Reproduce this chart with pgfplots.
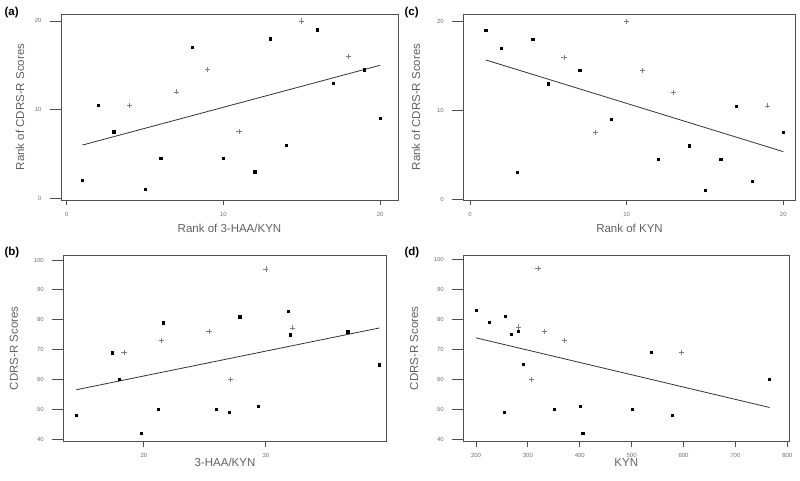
\documentclass[border=0pt]{standalone}
\usepackage{fontspec}
\setmainfont{Liberation Sans}
\usepackage{pgfplots}
\pgfplotsset{compat=1.18}
\definecolor{txt}{HTML}{606060}
\definecolor{tck}{HTML}{707070}
\definecolor{frm}{HTML}{505050}
\definecolor{plusc}{HTML}{808080}
\pgfplotsset{
  spss/.style={
    scale only axis,
    axis line style={draw=frm, line width=0.8pt},
    tick align=outside, tick pos=left,
    major tick length=5.5pt,
    tick style={draw=frm, line width=0.8pt},
    ytick=\empty,
    extra y tick style={major tick length=11pt, yticklabel style={xshift=-5pt}},
    ticklabel style={font=\fontsize{6}{7}\selectfont, text=tck},
    xticklabel style={yshift=-3pt},
    label style={font=\fontsize{11.5}{13}\selectfont, text=txt},
    /pgf/number format/assume math mode=true,
    clip=false,
  },
  dots/.style={only marks, mark=square*, mark size=1.1pt, black},
  pluses/.style={only marks, mark=+, mark size=2.6pt, plusc, mark options={line width=0.6pt}},
  reg/.style={no marks, draw=black!80, line width=0.8pt},
}
\begin{document}
\begin{tikzpicture}[x=1pt,y=1pt]
\useasboundingbox (0,0) rectangle (800,481);
% (a)
\begin{axis}[spss, at={(61pt,281pt)}, anchor=south west, width=337pt, height=186pt,
  xmin=-0.36, xmax=21.14, ymin=-0.19, ymax=20.78,
  xtick={0,10,20}, extra y ticks={0,10,20},
  xlabel={Rank of 3-HAA/KYN}, ylabel={Rank of CDRS-R Scores},
  xlabel style={at={(axis description cs:0.5,-0.1505)}, anchor=center},
  ylabel style={at={(axis description cs:-0.1217,0.5)}, anchor=center}]
\addplot[dots] coordinates {(1,2) (2,10.5) (3,7.5) (5,1) (6,4.5) (8,17) (10,4.5) (12,3) (13,18) (14,6) (16,19) (17,13) (19,14.5) (20,9)};
\addplot[pluses] coordinates {(4,10.5) (7,12) (9,14.5) (11,7.5) (15,20) (18,16)};
\addplot[reg] coordinates {(1,6.0) (20,15.0)};
\end{axis}
% (c)
\begin{axis}[spss, at={(463.3pt,281pt)}, anchor=south west, width=332.4pt, height=186pt,
  xmin=-0.43, xmax=20.79, ymin=-0.11, ymax=20.86,
  xtick={0,10,20}, extra y ticks={0,10,20},
  xlabel={Rank of KYN}, ylabel={Rank of CDRS-R Scores},
  xlabel style={at={(axis description cs:0.5,-0.1505)}, anchor=center},
  ylabel style={at={(axis description cs:-0.142,0.5)}, anchor=center}]
\addplot[dots] coordinates {(1,19) (2,17) (3,3) (4,18) (5,13) (7,14.5) (9,9) (12,4.5) (14,6) (15,1) (16,4.5) (17,10.5) (18,2) (20,7.5)};
\addplot[pluses] coordinates {(6,16) (8,7.5) (10,20) (11,14.5) (13,12) (19,10.5)};
\addplot[reg] coordinates {(1,15.68) (20,5.34)};
\end{axis}
% (b)
\begin{axis}[spss, at={(63.3pt,39.3pt)}, anchor=south west, width=323.4pt, height=186.7pt,
  xmin=13.4, xmax=39.9, ymin=39.22, ymax=101.67,
  xtick={20,30,40}, extra y ticks={40,50,...,100},
  xlabel={3-HAA/KYN}, ylabel={CDRS-R Scores},
  xlabel style={at={(axis description cs:0.5,-0.111)}, anchor=center},
  ylabel style={at={(axis description cs:-0.1524,0.5)}, anchor=center}]
\addplot[dots] coordinates {(14.47,48) (17.38,69) (17.98,60) (19.78,42) (21.2,50) (21.58,79) (25.94,50) (26.98,49) (27.85,81) (29.37,51) (31.85,83) (31.99,75) (36.7,76) (39.3,65)};
\addplot[pluses] coordinates {(18.37,69) (21.47,73) (25.34,76) (27.08,60) (30.0,97) (32.18,77.3)};
\addplot[reg] coordinates {(14.47,56.6) (39.3,77.26)};
\end{axis}
% (d)
\begin{axis}[spss, at={(463.3pt,39.3pt)}, anchor=south west, width=326pt, height=186.7pt,
  xmin=175.5, xmax=803.9, ymin=39.2, ymax=101.4,
  xtick={200,300,...,800}, extra y ticks={40,50,...,100},
  xlabel={KYN}, ylabel={CDRS-R Scores},
  xlabel style={at={(axis description cs:0.5,-0.114)}, anchor=center},
  ylabel style={at={(axis description cs:-0.151,0.5)}, anchor=center}]
\addplot[dots] coordinates {(200,83) (225,79) (256.5,81) (254.6,49) (268,75) (282,76) (290.6,65) (350.3,50) (400.4,51) (405.5,42) (500.6,50) (537.8,69) (578.3,48) (765.8,60)};
\addplot[pluses] coordinates {(282,77.4) (306.6,60) (319.5,97) (331.7,76) (370.2,73) (595.6,69)};
\addplot[reg] coordinates {(200,73.8) (765.8,50.6)};
\end{axis}
\node[anchor=west, font=\fontsize{11.5}{13}\selectfont\bfseries] at (1,468.5) {(a)};
\node[anchor=west, font=\fontsize{11.5}{13}\selectfont\bfseries] at (401,468.5) {(c)};
\node[anchor=west, font=\fontsize{11.5}{13}\selectfont\bfseries] at (1,228.5) {(b)};
\node[anchor=west, font=\fontsize{11.5}{13}\selectfont\bfseries] at (401,228.5) {(d)};
\end{tikzpicture}
\end{document}
